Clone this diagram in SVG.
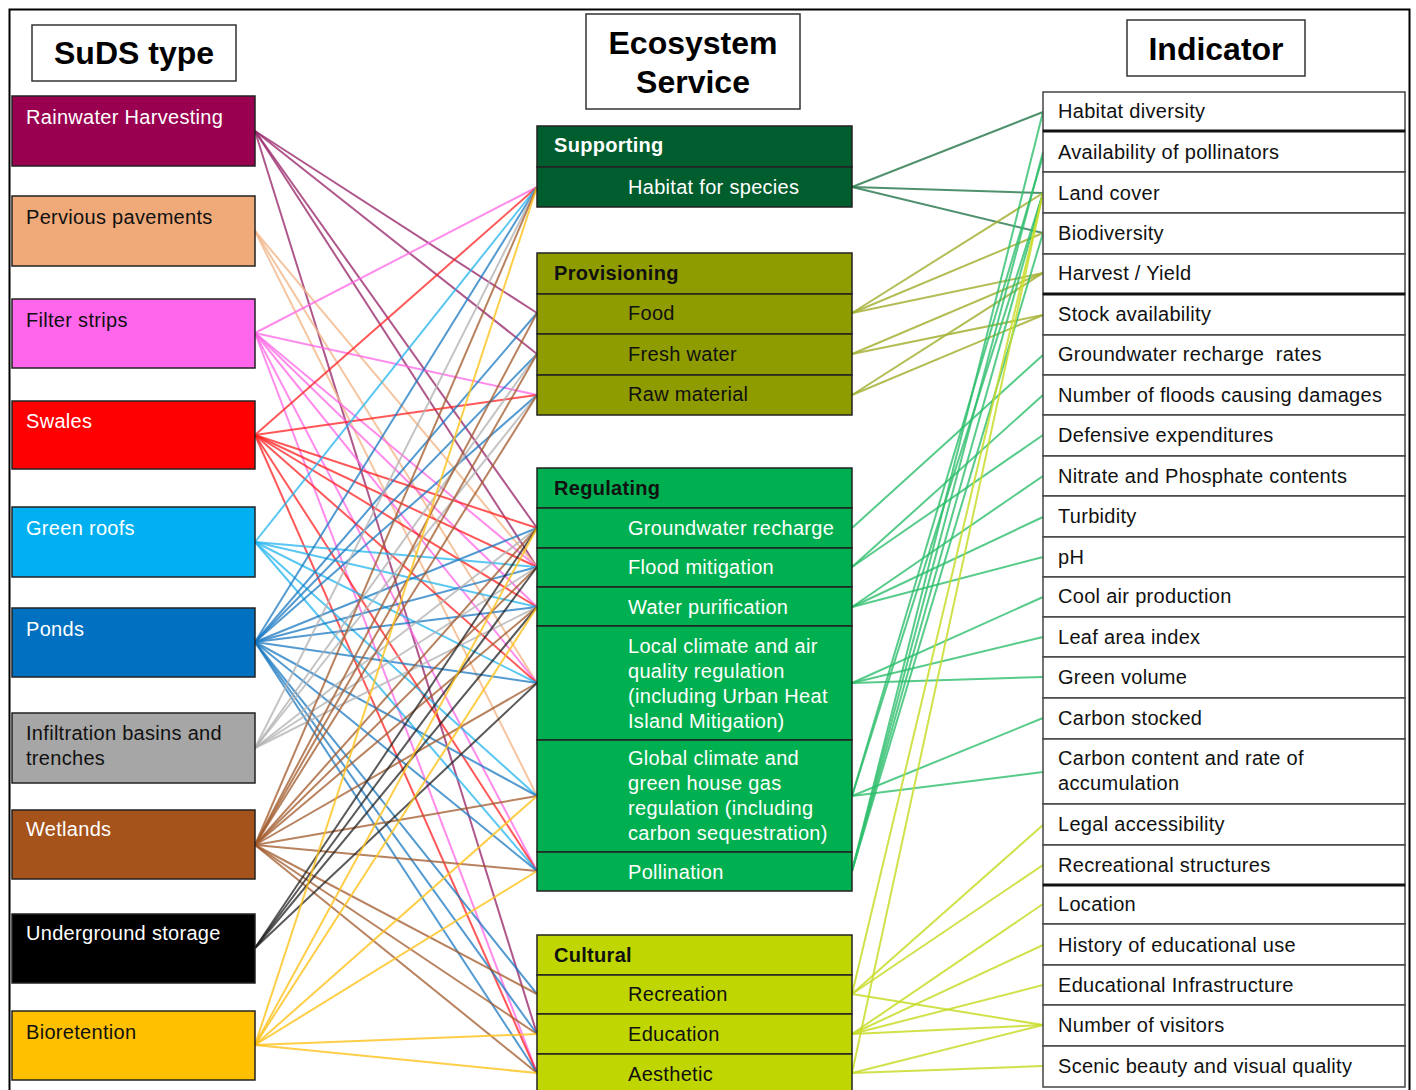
<svg xmlns="http://www.w3.org/2000/svg" width="1416" height="1090" viewBox="0 0 1416 1090">
<style>
text{font-family:"Liberation Sans",Arial,sans-serif;font-size:20px;letter-spacing:0.3px}
.hd{font-weight:bold;font-size:32px;letter-spacing:0;text-anchor:middle;fill:#000}
.hb{fill:#fff;stroke:#333;stroke-width:1.5}
.nb{stroke:#222;stroke-width:1.5}
.w{fill:#fff}.k{fill:#111}
.b{font-weight:bold}
.ib{fill:#fff;stroke:#444;stroke-width:1.5}
.sep{stroke:#111;stroke-width:3}
#conn line{stroke-width:2;fill:none}
.cR{stroke:#9B2C6E;stroke-opacity:.8}.cP{stroke:#F2B68A;stroke-opacity:.8}.cF{stroke:#FF66E6;stroke-opacity:.75}
.cS{stroke:#FF2020;stroke-opacity:.75}.cG{stroke:#22B4EE;stroke-opacity:.75}.cPo{stroke:#1A78C2;stroke-opacity:.75}
.cI{stroke:#B0B0B0;stroke-opacity:.75}.cW{stroke:#A0582A;stroke-opacity:.75}.cU{stroke:#222;stroke-opacity:.75}
.cB{stroke:#FFC21A;stroke-opacity:.8}
.rh{stroke:#2F7E52;stroke-opacity:.85}.rp{stroke:#A6B236;stroke-opacity:.85}.rr{stroke:#2DBE6C;stroke-opacity:.8}.rc{stroke:#C8DC2A;stroke-opacity:.85}
</style>
<rect x="9.5" y="9.5" width="1400" height="1100" fill="#fff" stroke="#000" stroke-width="2"/>
<g id="headers">
<g id="h-suds"><rect class="hb" x="32" y="25" width="204" height="56"/><text class="hd" x="134" y="64">SuDS type</text></g>
<g id="h-es"><rect class="hb" x="586" y="14" width="214" height="95"/><text class="hd" x="693" y="54">Ecosystem</text><text class="hd" x="693" y="93">Service</text></g>
<g id="h-ind"><rect class="hb" x="1127" y="20" width="178" height="56"/><text class="hd" x="1216" y="60">Indicator</text></g>
</g>
<g id="conn">
<g id="left-conn">
<line class="cR" x1="255" y1="131" x2="537" y2="313"/><line class="cR" x1="255" y1="131" x2="537" y2="354"/><line class="cR" x1="255" y1="131" x2="537" y2="528"/><line class="cR" x1="255" y1="131" x2="537" y2="567"/><line class="cR" x1="255" y1="131" x2="537" y2="1034"/>
<line class="cP" x1="255" y1="231" x2="537" y2="567"/><line class="cP" x1="255" y1="231" x2="537" y2="683"/><line class="cP" x1="255" y1="231" x2="537" y2="796"/>
<line class="cF" x1="255" y1="333" x2="537" y2="187"/><line class="cF" x1="255" y1="333" x2="537" y2="395"/><line class="cF" x1="255" y1="333" x2="537" y2="567"/><line class="cF" x1="255" y1="333" x2="537" y2="607"/><line class="cF" x1="255" y1="333" x2="537" y2="683"/><line class="cF" x1="255" y1="333" x2="537" y2="871"/><line class="cF" x1="255" y1="333" x2="537" y2="1073"/>
<line class="cS" x1="255" y1="435" x2="537" y2="187"/><line class="cS" x1="255" y1="435" x2="537" y2="395"/><line class="cS" x1="255" y1="435" x2="537" y2="528"/><line class="cS" x1="255" y1="435" x2="537" y2="567"/><line class="cS" x1="255" y1="435" x2="537" y2="607"/><line class="cS" x1="255" y1="435" x2="537" y2="683"/><line class="cS" x1="255" y1="435" x2="537" y2="871"/><line class="cS" x1="255" y1="435" x2="537" y2="1073"/>
<line class="cG" x1="255" y1="542" x2="537" y2="187"/><line class="cG" x1="255" y1="542" x2="537" y2="567"/><line class="cG" x1="255" y1="542" x2="537" y2="607"/><line class="cG" x1="255" y1="542" x2="537" y2="683"/><line class="cG" x1="255" y1="542" x2="537" y2="796"/><line class="cG" x1="255" y1="542" x2="537" y2="871"/>
<line class="cPo" x1="255" y1="642" x2="537" y2="187"/><line class="cPo" x1="255" y1="642" x2="537" y2="313"/><line class="cPo" x1="255" y1="642" x2="537" y2="354"/><line class="cPo" x1="255" y1="642" x2="537" y2="395"/><line class="cPo" x1="255" y1="642" x2="537" y2="528"/><line class="cPo" x1="255" y1="642" x2="537" y2="567"/><line class="cPo" x1="255" y1="642" x2="537" y2="607"/><line class="cPo" x1="255" y1="642" x2="537" y2="683"/><line class="cPo" x1="255" y1="642" x2="537" y2="796"/><line class="cPo" x1="255" y1="642" x2="537" y2="871"/><line class="cPo" x1="255" y1="642" x2="537" y2="994"/><line class="cPo" x1="255" y1="642" x2="537" y2="1034"/><line class="cPo" x1="255" y1="642" x2="537" y2="1073"/>
<line class="cI" x1="255" y1="748" x2="537" y2="187"/><line class="cI" x1="255" y1="748" x2="537" y2="354"/><line class="cI" x1="255" y1="748" x2="537" y2="395"/><line class="cI" x1="255" y1="748" x2="537" y2="528"/><line class="cI" x1="255" y1="748" x2="537" y2="567"/><line class="cI" x1="255" y1="748" x2="537" y2="607"/>
<line class="cW" x1="255" y1="845" x2="537" y2="187"/><line class="cW" x1="255" y1="845" x2="537" y2="313"/><line class="cW" x1="255" y1="845" x2="537" y2="354"/><line class="cW" x1="255" y1="845" x2="537" y2="395"/><line class="cW" x1="255" y1="845" x2="537" y2="528"/><line class="cW" x1="255" y1="845" x2="537" y2="567"/><line class="cW" x1="255" y1="845" x2="537" y2="607"/><line class="cW" x1="255" y1="845" x2="537" y2="683"/><line class="cW" x1="255" y1="845" x2="537" y2="796"/><line class="cW" x1="255" y1="845" x2="537" y2="871"/><line class="cW" x1="255" y1="845" x2="537" y2="994"/><line class="cW" x1="255" y1="845" x2="537" y2="1034"/><line class="cW" x1="255" y1="845" x2="537" y2="1073"/>
<line class="cU" x1="255" y1="948" x2="537" y2="528"/><line class="cU" x1="255" y1="948" x2="537" y2="567"/><line class="cU" x1="255" y1="948" x2="537" y2="607"/><line class="cU" x1="255" y1="948" x2="537" y2="683"/>
<line class="cB" x1="255" y1="1045" x2="537" y2="187"/><line class="cB" x1="255" y1="1045" x2="537" y2="528"/><line class="cB" x1="255" y1="1045" x2="537" y2="607"/><line class="cB" x1="255" y1="1045" x2="537" y2="796"/><line class="cB" x1="255" y1="1045" x2="537" y2="871"/><line class="cB" x1="255" y1="1045" x2="537" y2="1034"/><line class="cB" x1="255" y1="1045" x2="537" y2="1073"/>
</g>
<g id="right-conn">
<line class="rh" x1="852" y1="187" x2="1043" y2="112"/><line class="rh" x1="852" y1="187" x2="1043" y2="193"/><line class="rh" x1="852" y1="187" x2="1043" y2="233"/>
<line class="rp" x1="852" y1="313" x2="1043" y2="193"/><line class="rp" x1="852" y1="313" x2="1043" y2="233"/><line class="rp" x1="852" y1="313" x2="1043" y2="273"/>
<line class="rp" x1="852" y1="354" x2="1043" y2="273"/><line class="rp" x1="852" y1="354" x2="1043" y2="315"/>
<line class="rp" x1="852" y1="395" x2="1043" y2="273"/><line class="rp" x1="852" y1="395" x2="1043" y2="315"/>
<line class="rr" x1="852" y1="528" x2="1043" y2="355"/>
<line class="rr" x1="852" y1="567" x2="1043" y2="395"/><line class="rr" x1="852" y1="567" x2="1043" y2="435"/>
<line class="rr" x1="852" y1="607" x2="1043" y2="476"/><line class="rr" x1="852" y1="607" x2="1043" y2="517"/><line class="rr" x1="852" y1="607" x2="1043" y2="557"/>
<line class="rr" x1="852" y1="683" x2="1043" y2="597"/><line class="rr" x1="852" y1="683" x2="1043" y2="637"/><line class="rr" x1="852" y1="683" x2="1043" y2="677"/>
<line class="rr" x1="852" y1="796" x2="1043" y2="718"/><line class="rr" x1="852" y1="796" x2="1043" y2="772"/><line class="rr" x1="852" y1="796" x2="1043" y2="193"/><line class="rr" x1="852" y1="796" x2="1043" y2="156"/>
<line class="rr" x1="852" y1="871" x2="1043" y2="112"/><line class="rr" x1="852" y1="871" x2="1043" y2="152"/><line class="rr" x1="852" y1="871" x2="1043" y2="193"/><line class="rr" x1="852" y1="871" x2="1043" y2="233"/>
<line class="rc" x1="852" y1="994" x2="1043" y2="825"/><line class="rc" x1="852" y1="994" x2="1043" y2="865"/><line class="rc" x1="852" y1="994" x2="1043" y2="1025"/><line class="rc" x1="852" y1="994" x2="1043" y2="193"/>
<line class="rc" x1="852" y1="1034" x2="1043" y2="904"/><line class="rc" x1="852" y1="1034" x2="1043" y2="945"/><line class="rc" x1="852" y1="1034" x2="1043" y2="985"/><line class="rc" x1="852" y1="1034" x2="1043" y2="1025"/>
<line class="rc" x1="852" y1="1073" x2="1043" y2="1025"/><line class="rc" x1="852" y1="1073" x2="1043" y2="1066"/><line class="rc" x1="852" y1="1073" x2="1043" y2="193"/>
</g>
</g>
<g id="suds">
<g id="n-rain"><rect class="nb" x="12" y="96" width="243" height="70" fill="#990050"/><text class="w" x="26" y="124">Rainwater Harvesting</text></g>
<g id="n-perv"><rect class="nb" x="12" y="196" width="243" height="70" fill="#F0AA7A"/><text class="k" x="26" y="224">Pervious pavements</text></g>
<g id="n-filter"><rect class="nb" x="12" y="299" width="243" height="69" fill="#FF66EB"/><text class="k" x="26" y="327">Filter strips</text></g>
<g id="n-swales"><rect class="nb" x="12" y="401" width="243" height="68" fill="#FF0000"/><text class="w" x="26" y="428">Swales</text></g>
<g id="n-green"><rect class="nb" x="12" y="507" width="243" height="70" fill="#00B0F0"/><text class="w" x="26" y="535">Green roofs</text></g>
<g id="n-ponds"><rect class="nb" x="12" y="608" width="243" height="69" fill="#0070C0"/><text class="w" x="26" y="636">Ponds</text></g>
<g id="n-infil"><rect class="nb" x="12" y="713" width="243" height="70" fill="#A6A6A6"/><text class="k" x="26" y="740">Infiltration basins and</text><text class="k" x="26" y="765">trenches</text></g>
<g id="n-wet"><rect class="nb" x="12" y="810" width="243" height="69" fill="#A5521B"/><text class="w" x="26" y="836">Wetlands</text></g>
<g id="n-under"><rect class="nb" x="12" y="914" width="243" height="69" fill="#000000"/><text class="w" x="26" y="940">Underground storage</text></g>
<g id="n-bio"><rect class="nb" x="12" y="1011" width="243" height="69" fill="#FFC000"/><text class="k" x="26" y="1039">Bioretention</text></g>
</g>
<g id="services">
<g id="s-supporting"><rect class="nb" x="537" y="126" width="315" height="41" fill="#005E2E"/><text class="w b" x="554" y="152">Supporting</text></g>
<g id="s-habitat"><rect class="nb" x="537" y="167" width="315" height="40" fill="#005E2E"/><text class="w" x="628" y="194">Habitat for species</text></g>
<g id="s-provisioning"><rect class="nb" x="537" y="253" width="315" height="41" fill="#8F9C00"/><text class="k b" x="554" y="280">Provisioning</text></g>
<g id="s-food"><rect class="nb" x="537" y="294" width="315" height="40" fill="#8F9C00"/><text class="k" x="628" y="320">Food</text></g>
<g id="s-fresh"><rect class="nb" x="537" y="334" width="315" height="41" fill="#8F9C00"/><text class="k" x="628" y="361">Fresh water</text></g>
<g id="s-raw"><rect class="nb" x="537" y="375" width="315" height="40" fill="#8F9C00"/><text class="k" x="628" y="401">Raw material</text></g>
<g id="s-regulating"><rect class="nb" x="537" y="468" width="315" height="40" fill="#00B050"/><text class="k b" x="554" y="495">Regulating</text></g>
<g id="s-gw"><rect class="nb" x="537" y="508" width="315" height="40" fill="#00B050"/><text class="w" x="628" y="535">Groundwater recharge</text></g>
<g id="s-flood"><rect class="nb" x="537" y="548" width="315" height="39" fill="#00B050"/><text class="w" x="628" y="574">Flood mitigation</text></g>
<g id="s-wp"><rect class="nb" x="537" y="587" width="315" height="39" fill="#00B050"/><text class="w" x="628" y="614">Water purification</text></g>
<g id="s-local"><rect class="nb" x="537" y="626" width="315" height="114" fill="#00B050"/><text class="w" x="628" y="653">Local climate and air</text><text class="w" x="628" y="678">quality regulation</text><text class="w" x="628" y="703">(including Urban Heat</text><text class="w" x="628" y="728">Island Mitigation)</text></g>
<g id="s-global"><rect class="nb" x="537" y="740" width="315" height="112" fill="#00B050"/><text class="w" x="628" y="765">Global climate and</text><text class="w" x="628" y="790">green house gas</text><text class="w" x="628" y="815">regulation (including</text><text class="w" x="628" y="840">carbon sequestration)</text></g>
<g id="s-poll"><rect class="nb" x="537" y="852" width="315" height="39" fill="#00B050"/><text class="w" x="628" y="879">Pollination</text></g>
<g id="s-cultural"><rect class="nb" x="537" y="935" width="315" height="40" fill="#BFD600"/><text class="k b" x="554" y="962">Cultural</text></g>
<g id="s-rec"><rect class="nb" x="537" y="975" width="315" height="39" fill="#BFD600"/><text class="k" x="628" y="1001">Recreation</text></g>
<g id="s-edu"><rect class="nb" x="537" y="1014" width="315" height="40" fill="#BFD600"/><text class="k" x="628" y="1041">Education</text></g>
<g id="s-aes"><rect class="nb" x="537" y="1054" width="315" height="40" fill="#BFD600"/><text class="k" x="628" y="1081">Aesthetic</text></g>
</g>
<g id="indicators">
<g id="i1"><rect class="ib" x="1043" y="92" width="362" height="39"/><text class="k" x="1058" y="118">Habitat diversity</text></g>
<g id="i2"><rect class="ib" x="1043" y="131" width="362" height="41"/><text class="k" x="1058" y="159">Availability of pollinators</text></g>
<g id="i3"><rect class="ib" x="1043" y="172" width="362" height="41"/><text class="k" x="1058" y="200">Land cover</text></g>
<g id="i4"><rect class="ib" x="1043" y="213" width="362" height="41"/><text class="k" x="1058" y="240">Biodiversity</text></g>
<g id="i5"><rect class="ib" x="1043" y="254" width="362" height="40"/><text class="k" x="1058" y="280">Harvest / Yield</text></g>
<g id="i6"><rect class="ib" x="1043" y="294" width="362" height="41"/><text class="k" x="1058" y="321">Stock availability</text></g>
<g id="i7"><rect class="ib" x="1043" y="335" width="362" height="40"/><text class="k" x="1058" y="361" xml:space="preserve">Groundwater recharge  rates</text></g>
<g id="i8"><rect class="ib" x="1043" y="375" width="362" height="40"/><text class="k" x="1058" y="402">Number of floods causing damages</text></g>
<g id="i9"><rect class="ib" x="1043" y="415" width="362" height="41"/><text class="k" x="1058" y="442">Defensive expenditures</text></g>
<g id="i10"><rect class="ib" x="1043" y="456" width="362" height="40"/><text class="k" x="1058" y="483">Nitrate and Phosphate contents</text></g>
<g id="i11"><rect class="ib" x="1043" y="496" width="362" height="41"/><text class="k" x="1058" y="523">Turbidity</text></g>
<g id="i12"><rect class="ib" x="1043" y="537" width="362" height="40"/><text class="k" x="1058" y="564">pH</text></g>
<g id="i13"><rect class="ib" x="1043" y="577" width="362" height="40"/><text class="k" x="1058" y="603">Cool air production</text></g>
<g id="i14"><rect class="ib" x="1043" y="617" width="362" height="40"/><text class="k" x="1058" y="644">Leaf area index</text></g>
<g id="i15"><rect class="ib" x="1043" y="657" width="362" height="41"/><text class="k" x="1058" y="684">Green volume</text></g>
<g id="i16"><rect class="ib" x="1043" y="698" width="362" height="41"/><text class="k" x="1058" y="725">Carbon stocked</text></g>
<g id="i17"><rect class="ib" x="1043" y="739" width="362" height="65"/><text class="k" x="1058" y="765">Carbon content and rate of</text><text class="k" x="1058" y="790">accumulation</text></g>
<g id="i18"><rect class="ib" x="1043" y="804" width="362" height="41"/><text class="k" x="1058" y="831">Legal accessibility</text></g>
<g id="i19"><rect class="ib" x="1043" y="845" width="362" height="40"/><text class="k" x="1058" y="872">Recreational structures</text></g>
<g id="i20"><rect class="ib" x="1043" y="885" width="362" height="39"/><text class="k" x="1058" y="911">Location</text></g>
<g id="i21"><rect class="ib" x="1043" y="924" width="362" height="41"/><text class="k" x="1058" y="952">History of educational use</text></g>
<g id="i22"><rect class="ib" x="1043" y="965" width="362" height="40"/><text class="k" x="1058" y="992">Educational Infrastructure</text></g>
<g id="i23"><rect class="ib" x="1043" y="1005" width="362" height="41"/><text class="k" x="1058" y="1032">Number of visitors</text></g>
<g id="i24"><rect class="ib" x="1043" y="1046" width="362" height="41"/><text class="k" x="1058" y="1073">Scenic beauty and visual quality</text></g>
<line class="sep" x1="1043" y1="131" x2="1405" y2="131"/><line class="sep" x1="1043" y1="294" x2="1405" y2="294"/><line class="sep" x1="1043" y1="885" x2="1405" y2="885"/>
</g>
</svg>
